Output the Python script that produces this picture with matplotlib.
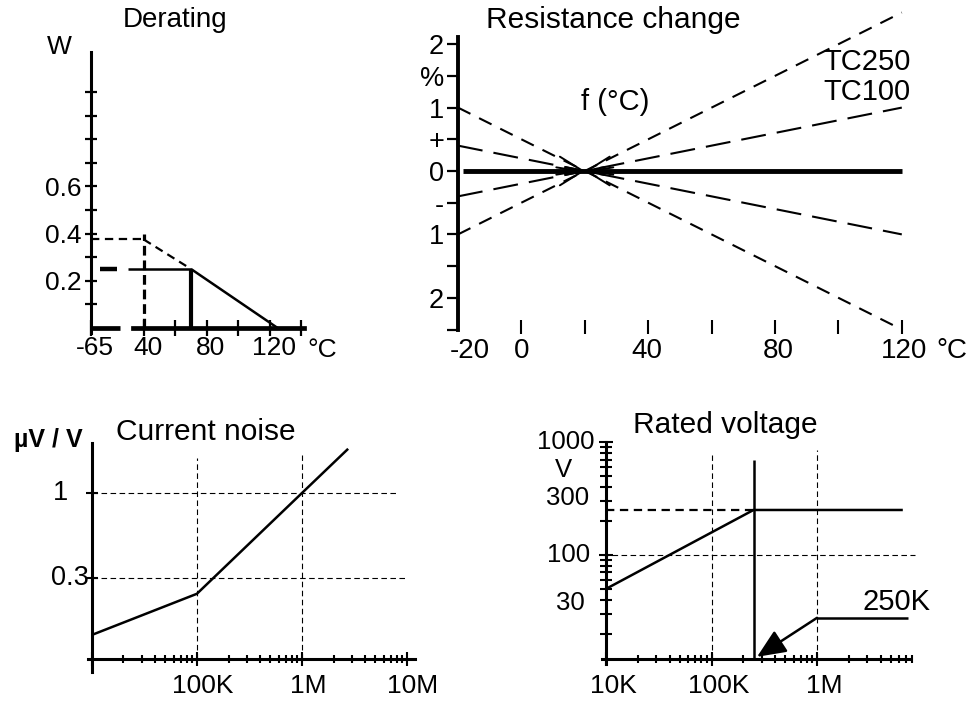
import matplotlib
matplotlib.use("Agg")
import matplotlib.pyplot as plt
import matplotlib.transforms as mtransforms
from matplotlib.ticker import LogLocator, NullFormatter, NullLocator

plt.rcParams['font.family'] = ['Liberation Sans', 'DejaVu Sans']
plt.rcParams['lines.scale_dashes'] = False
plt.rcParams['lines.solid_capstyle'] = 'butt'
plt.rcParams['lines.dash_capstyle'] = 'butt'

W, H = 972, 709

# Derating (W vs degC), x axis is broken: its left end is labelled -65
axis_start = 6.5
derate_temp = [70, 125]
derate_power = [0.25, 0.0]
ext_temp = [40, 70]
ext_power = [0.375, 0.25]
rated_temp = 70
rated_power = 0.25
ext_rated_temp = 40
ext_rated_power = 0.375
derate_xticks = [axis_start, 40, 60, 80, 100, 120, 140]
derate_xlabels = ["-65", "40", "", "80", "", "120", ""]
derate_yticks = [0.1, 0.2, 0.3, 0.4, 0.5, 0.6, 0.7, 0.8, 0.9, 1.0]
derate_ylabels = ["", "0.2", "", "0.4", "", "0.6", "", "", "", ""]

# Resistance change (% vs degC)
rc_temp = [-20, 120]
tc250_up = [-1.0, 2.5]
tc250_down = [1.0, -2.5]
tc100_up = [-0.4, 1.0]
tc100_down = [0.4, -1.0]
ref_temp = 20
rc_yticks = [2, 1.5, 1, 0.5, 0, -0.5, -1, -1.5, -2, -2.5]
rc_ylabels = ["2", "%", "1", "+", "0", "-", "1", "", "2", ""]
rc_xticks = [0, 20, 40, 60, 80, 100, 120]

# Current noise (uV/V vs resistance)
noise_res = [1e4, 1e5, 1e6, 2.75e6]
noise_val = [0.134, 0.24, 1.0, 1.87]
noise_xticks = [1e4, 1e5, 1e6, 1e7]
noise_xlabels = ["", "100K", "1M", "10M"]

# Rated voltage (V vs resistance)
volt_res = [1e4, 2.5e5, 6.5e6]
volt_val = [50, 250, 250]
limit_res = 2.5e5
volt_xticks = [1e4, 1e5, 1e6]
volt_xlabels = ["10K", "100K", "1M"]

fig = plt.figure(figsize=(W / 100, H / 100), dpi=100)


def px_axes(l, t, r, b):
    ax = fig.add_axes([l / W, 1 - b / H, (r - l) / W, (b - t) / H])
    ax.patch.set_visible(False)
    ax.spines[['top', 'right']].set_visible(False)
    return ax


def label(x, y, s, size=19, **kw):
    fig.text(x / W, 1 - y / H, s, ha=kw.pop('ha', 'center'), va='center', fontsize=size, **kw)


def shift_labels(ax, dx):
    off = mtransforms.ScaledTranslation(dx / 100, 0, fig.dpi_scale_trans)
    for t in ax.get_xticklabels():
        t.set_transform(t.get_transform() + off)


# ---------------- Derating ----------------
ax1 = px_axes(91, 328 - 1.2 * 236, 91 + 143.5 * 1.575, 328 + 0.04 * 236)
ax1.set_xlim(axis_start, 150)
ax1.set_ylim(-0.04, 1.2)
ax1.spines['left'].set_bounds(-0.02, 1.17)
ax1.spines['left'].set_linewidth(2.2)
ax1.spines['bottom'].set_position(('data', 0))
ax1.spines['bottom'].set_bounds(33, 142)
ax1.spines['bottom'].set_linewidth(3.4)
ax1.plot([axis_start, 25], [0, 0], color='k', lw=3.4, clip_on=False)
ax1.set_xticks(derate_xticks, derate_xlabels)
ax1.set_yticks(derate_yticks, derate_ylabels)
ax1.tick_params(axis='x', direction='inout', length=11, width=1.6, labelsize=19, pad=0)
ax1.tick_params(axis='y', direction='inout', length=9, width=1.6, labelsize=19, pad=2)
shift_labels(ax1, 4)

ax1.plot(derate_temp, derate_power, color='k', lw=1.8)
ax1.plot([rated_temp, rated_temp], [0, rated_power], color='k', lw=3)
ax1.plot([30, rated_temp], [rated_power, rated_power], color='k', lw=1.8)
ax1.plot([12, 23], [rated_power, rated_power], color='k', lw=3.2)
ax1.plot([axis_start, ext_rated_temp], [ext_rated_power, ext_rated_power], color='k', lw=1.6, ls=(0, (6, 4)))
ax1.plot([ext_rated_temp, ext_rated_temp], [0, 0.4], color='k', lw=2.3, ls=(0, (7, 3.5)))
ax1.plot(ext_temp, ext_power, color='k', lw=1.6, ls=(0, (6, 4)))

label(175, 20, "Derating", size=20)
label(59, 47, "W", size=19)
label(322, 350, "°C", size=19)

# ---------------- Resistance change ----------------
ax2 = px_axes(458, 171 - 2.7 * 63.4, 458 + 145 * 3.17, 171 + 2.65 * 63.4)
ax2.set_xlim(-20, 125)
ax2.set_ylim(-2.65, 2.7)
ax2.spines['left'].set_bounds(-2.5, 2.11)
ax2.spines['left'].set_linewidth(2.8)
ax2.spines['bottom'].set_position(('data', -2.453))
ax2.spines['bottom'].set_color('none')
ax2.set_xticks(rc_xticks)
ax2.set_yticks(rc_yticks, rc_ylabels)
ax2.tick_params(axis='x', direction='inout', length=9.5, width=1.5, labelbottom=False)
ax2.tick_params(axis='y', direction='out', length=8, width=1.6, labelsize=19.5, pad=2)

ax2.plot([-18.5, 120], [0, 0], color='k', lw=3.5)
ax2.plot(rc_temp, tc250_up, color='k', lw=1.5, ls=(0, (10, 7)), clip_on=False)
ax2.plot(rc_temp, tc250_down, color='k', lw=1.5, ls=(0, (10, 7)), clip_on=False)
ax2.plot(rc_temp, tc100_up, color='k', lw=1.5, ls=(0, (18, 8)))
ax2.plot(rc_temp, tc100_down, color='k', lw=1.5, ls=(0, (18, 8)))
for sx, sy in [(14, -0.06), (14, 0.06), (26, 0.06), (26, -0.06)]:
    ax2.annotate("", xy=(ref_temp, 0), xytext=(sx, sy),
                 arrowprops=dict(arrowstyle='->,head_length=0.8,head_width=0.3',
                                 lw=1.4, color='k', shrinkA=0, shrinkB=0, mutation_scale=22))

ax2.text(29.5, 1.09, "f (°C)", ha='center', va='center', fontsize=21)
ax2.text(109, 1.72, "TC250", ha='center', va='center', fontsize=21)
ax2.text(109, 1.25, "TC100", ha='center', va='center', fontsize=21)
for x, s in [(-16.2, "-20"), (0, "0"), (39.6, "40"), (81, "80"), (120.7, "120")]:
    ax2.text(x, -2.84, s, ha='center', va='center', fontsize=20)
ax2.text(135.8, -2.84, "°C", ha='center', va='center', fontsize=20)
label(613, 20, "Resistance change", size=21.5)

# ---------------- Current noise ----------------
ax3 = px_axes(88, 443, 415, 672)
ax3.set_xscale('log')
ax3.set_yscale('log')
ax3.set_xlim(9.2e3, 1.19e7)
ax3.set_ylim(0.0793, 2.03)
ax3.spines['left'].set_position(('data', 1e4))
ax3.spines['bottom'].set_position(('data', 0.0953))
ax3.spines['left'].set_linewidth(2.2)
ax3.spines['bottom'].set_linewidth(2.2)
ax3.set_xticks(noise_xticks, noise_xlabels)
ax3.xaxis.set_minor_locator(LogLocator(base=10, subs=(2, 3, 4, 5, 6, 7, 8, 9)))
ax3.xaxis.set_minor_formatter(NullFormatter())
ax3.set_yticks([0.3, 1], ["", ""])
ax3.yaxis.set_minor_locator(NullLocator())
ax3.tick_params(axis='x', which='major', direction='inout', length=10, width=1.5, labelsize=19, pad=6)
ax3.tick_params(axis='x', which='minor', direction='inout', length=6, width=1.5)
ax3.tick_params(axis='y', direction='inout', length=9, width=1.5)
shift_labels(ax3, 6)

grid = dict(color='k', lw=0.8, ls=(0, (4, 2.5)))
ax3.plot([1e4, 8.2e6], [1, 1], **grid)
ax3.plot([1e4, 9.5e6], [0.3, 0.3], **grid)
ax3.plot([1e5, 1e5], [0.0953, 1.64], **grid)
ax3.plot([1e6, 1e6], [0.0953, 1.71], **grid)
ax3.plot(noise_res, noise_val, color='k', lw=1.8)

label(60, 493, "1", size=19.5)
label(70, 578, "0.3", size=19.5)
label(48, 440, "µV / V", size=18, fontweight='bold')
label(206, 432, "Current noise", size=21.5)

# ---------------- Rated voltage ----------------
ax4 = px_axes(602, 440, 916, 664)
ax4.set_xscale('log')
ax4.set_yscale('log')
ax4.set_xlim(9.16e3, 8.67e6)
ax4.set_ylim(10.8, 1042)
ax4.spines['left'].set_position(('data', 1e4))
ax4.spines['left'].set_bounds(10.8, 1000)
ax4.spines['bottom'].set_position(('data', 12.0))
ax4.spines['bottom'].set_bounds(9.16e3, 7.6e6)
ax4.spines['left'].set_linewidth(2.2)
ax4.spines['bottom'].set_linewidth(2.2)
ax4.set_xticks(volt_xticks, volt_xlabels)
ax4.xaxis.set_minor_locator(LogLocator(base=10, subs=(2, 3, 4, 5, 6, 7, 8, 9)))
ax4.xaxis.set_minor_formatter(NullFormatter())
ax4.set_yticks([100, 1000], ["", ""])
ax4.yaxis.set_minor_locator(LogLocator(base=10, subs=(2, 3, 4, 5, 6, 7, 8, 9)))
ax4.yaxis.set_minor_formatter(NullFormatter())
ax4.tick_params(axis='x', which='major', direction='inout', length=10, width=1.5, labelsize=19, pad=6)
ax4.tick_params(axis='x', which='minor', direction='inout', length=6, width=1.5)
ax4.tick_params(axis='y', which='major', direction='inout', length=10, width=1.5)
ax4.tick_params(axis='y', which='minor', direction='inout', length=8, width=1.5)
shift_labels(ax4, 7)

ax4.plot([1e5, 1e5], [12.0, 767], **grid)
ax4.plot([1e6, 1e6], [12.0, 851], **grid)
ax4.plot([9.3e3, 8.5e6], [100, 100], **grid)
ax4.plot([1e4, limit_res], [250, 250], color='k', lw=1.6, ls=(0, (6, 4)))
ax4.plot(volt_res, volt_val, color='k', lw=1.8)
ax4.plot([limit_res, limit_res], [12.0, 690], color='k', lw=1.8)
ax4.plot([1e6, 7.3e6], [27.7, 27.7], color='k', lw=1.8)
ax4.annotate("", xy=(2.7e5, 12.5), xytext=(1e6, 27.7),
             arrowprops=dict(arrowstyle='-|>,head_length=0.8,head_width=0.35',
                             lw=1.8, color='k', shrinkA=0, shrinkB=0, mutation_scale=22))
ax4.text(5.7e6, 38.4, "250K", ha='center', va='center', fontsize=21)

label(566, 442, "1000", size=18.5)
label(563, 470, "V", size=18.5)
label(568, 498, "300", size=18.5)
label(569, 555, "100", size=18.5)
label(570, 603, "30", size=18.5)
label(725, 425, "Rated voltage", size=21.5)

fig.savefig("out.png", dpi=100)
